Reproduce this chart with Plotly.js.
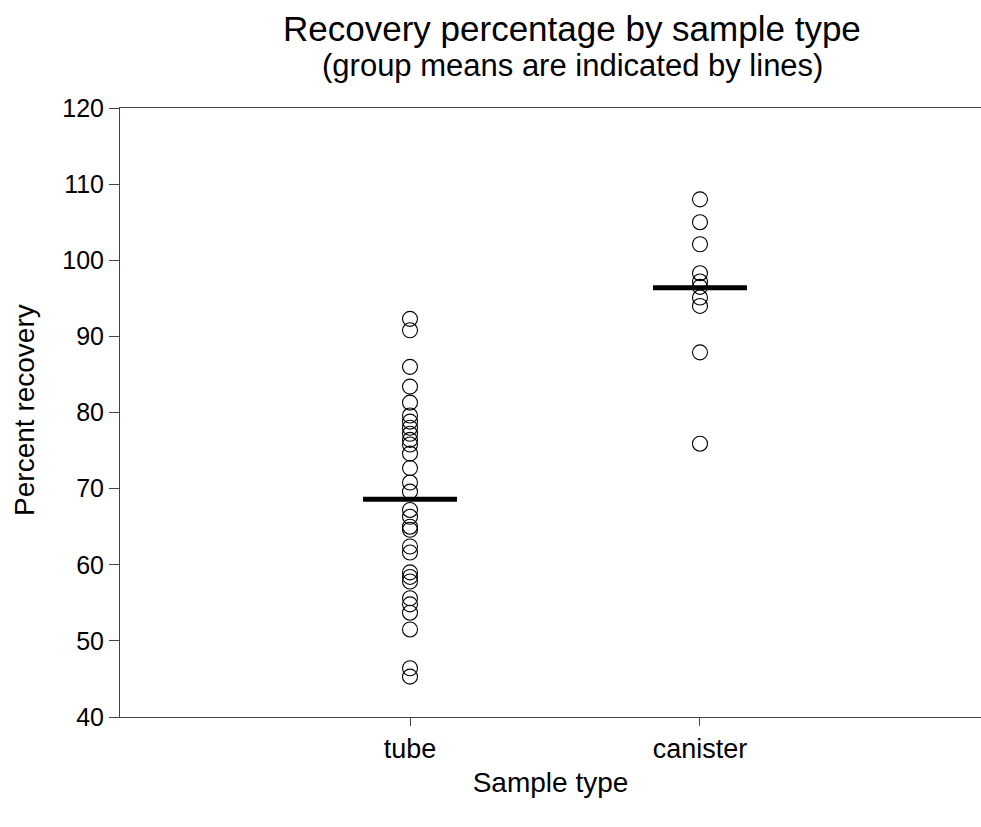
<!DOCTYPE html>
<html>
<head>
<meta charset="utf-8">
<script src="https://cdn.plot.ly/plotly-3.0.1.min.js"></script>
<style>html,body{margin:0;padding:0;background:#fff;}#chart{width:981px;height:827px;}</style>
</head>
<body>
<div id="chart"></div>
<script>
const categories = ["tube", "canister"];
const tubeValues = [92.3, 90.8, 86.0, 83.4, 81.3, 79.6, 78.8, 78.0, 77.2, 76.4, 75.8, 74.6, 72.7, 70.8, 69.6, 67.2, 66.3, 65.0, 64.6, 62.4, 61.6, 59.0, 58.4, 57.8, 55.6, 54.8, 53.7, 51.5, 46.4, 45.3];
const canisterValues = [108.0, 105.0, 102.1, 98.3, 97.2, 96.5, 95.1, 94.0, 87.9, 75.9];
const groupMeans = [68.6, 96.4];
const yTicks = [40, 50, 60, 70, 80, 90, 100, 110, 120];
const titleText = "Recovery percentage by sample type";
const subtitleText = "(group means are indicated by lines)";
const xTitle = "Sample type";
const yTitle = "Percent recovery";

const FONT = "Liberation Sans, Arial, sans-serif";
const groups = [tubeValues, canisterValues];
const traces = [];
groups.forEach((vals, i) => {
  traces.push({
    type: "scatter", mode: "markers",
    x: vals.map(() => i + 1), y: vals,
    marker: {symbol: "circle", size: 15, color: "rgba(255,255,255,0)", line: {color: "#000", width: 1.1}},
    hoverinfo: "y", showlegend: false, cliponaxis: false
  });
});
groupMeans.forEach((m, i) => {
  traces.push({
    type: "scatter", mode: "lines",
    x: [i + 1 - 0.162, i + 1 + 0.162], y: [m, m],
    line: {color: "#000", width: 5},
    hoverinfo: "y", showlegend: false
  });
});

const layout = {
  width: 981, height: 827,
  margin: {l: 120, r: 0, t: 108, b: 110},
  paper_bgcolor: "#fff", plot_bgcolor: "#fff",
  font: {family: FONT, color: "#000"},
  annotations: [
    {text: titleText, xref: "paper", yref: "paper", x: 0.525, y: 1.131, xanchor: "center", yanchor: "middle",
     showarrow: false, font: {family: FONT, size: 35, color: "#000"}},
    {text: subtitleText, xref: "paper", yref: "paper", x: 0.525, y: 1.07, xanchor: "center", yanchor: "middle",
     showarrow: false, font: {family: FONT, size: 31, color: "#000"}},
    {text: yTitle, xref: "paper", yref: "paper", x: -0.111, y: 0.505, xanchor: "center", yanchor: "middle",
     textangle: -90, showarrow: false, font: {family: FONT, size: 28, color: "#000"}}
  ],
  xaxis: {
    range: [0, 2.969], tickmode: "array", tickvals: [1, 2], ticktext: categories,
    showgrid: false, zeroline: false, showline: true, mirror: true,
    linecolor: "#444", linewidth: 1,
    ticks: "outside", ticklen: 8, tickcolor: "#444",
    tickfont: {family: FONT, size: 27, color: "#000"},
    title: {text: xTitle, font: {family: FONT, size: 28, color: "#000"}, standoff: 8}
  },
  yaxis: {
    range: [40, 120], tickmode: "array", tickvals: yTicks,
    showgrid: false, zeroline: false, showline: true,
    linecolor: "#444", linewidth: 1,
    ticks: "outside", ticklen: 10, tickcolor: "#444",
    tickfont: {family: FONT, size: 25, color: "#000"}
  }
};
Plotly.newPlot("chart", traces, layout, {displayModeBar: false, staticPlot: true});
</script>
</body>
</html>
